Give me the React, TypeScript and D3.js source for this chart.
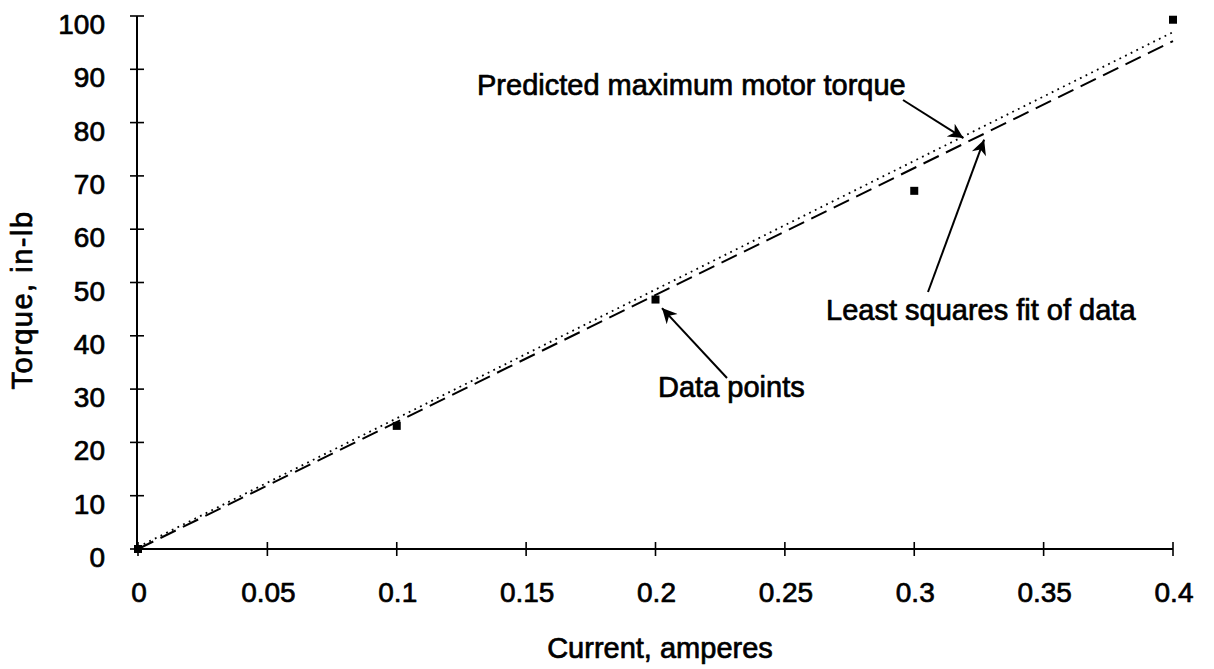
import React, { useEffect, useRef } from 'react';
import * as d3 from 'd3';

// measured points (current in amperes, torque in in-lb)
const currents = [0, 0.1, 0.2, 0.3, 0.4];
const torques = [0, 23.1, 46.8, 67.2, 99.3];

// straight lines, given by their end points
const predictedLine: [number, number][] = [[0, 0], [0.4, 96.6]];
const fitLine: [number, number][] = [[0, 0], [0.4, 95.3]];

const xTicks = [0, 0.05, 0.1, 0.15, 0.2, 0.25, 0.3, 0.35, 0.4];
const yTicks = [0, 10, 20, 30, 40, 50, 60, 70, 80, 90, 100];

const xTitle = 'Current, amperes';
const yTitle = 'Torque, in-lb';

const noteLabels = ['Predicted maximum motor torque', 'Least squares fit of data', 'Data points'];

const FONT = '"Liberation Sans", Arial, Helvetica, sans-serif';

export default function App() {
  const ref = useRef<SVGSVGElement>(null);

  useEffect(() => {
    const width = 1214,
      height = 669;

    const svg = d3.select(ref.current).attr('width', width).attr('height', height);
    svg.selectAll('*').remove();

    const x = d3.scaleLinear().domain([0, 0.4]).range([138, 1173]);
    const y = d3.scaleLinear().domain([0, 100]).range([549, 16]);

    svg
      .append('defs')
      .append('marker')
      .attr('id', 'arrow')
      .attr('viewBox', '0 0 10 10')
      .attr('refX', 10)
      .attr('refY', 5)
      .attr('markerUnits', 'userSpaceOnUse')
      .attr('markerWidth', 22)
      .attr('markerHeight', 15)
      .attr('orient', 'auto')
      .append('path')
      .attr('d', 'M0,0 L10,5 L0,10 L3,5 Z')
      .attr('fill', '#000');

    // slight outline on the text to get the heavy scanned look
    const chart = svg
      .append('g')
      .style('font-family', FONT)
      .style('stroke-linejoin', 'round');

    const heavy = (sel: any) => sel.attr('stroke', '#000').attr('stroke-width', 0.7);

    // axes, ticks cross the line
    chart
      .append('line')
      .attr('x1', x(0) - 1)
      .attr('x2', x(0) - 1)
      .attr('y1', y(100))
      .attr('y2', y(0))
      .attr('stroke', '#000')
      .attr('stroke-width', 2);

    chart
      .append('line')
      .attr('x1', x(0) - 1)
      .attr('x2', x(0.4))
      .attr('y1', y(0))
      .attr('y2', y(0))
      .attr('stroke', '#000')
      .attr('stroke-width', 2);

    chart
      .selectAll('.ytick')
      .data(yTicks)
      .enter()
      .append('line')
      .attr('class', 'ytick')
      .attr('x1', x(0) - 8)
      .attr('x2', x(0) + 6)
      .attr('y1', d => y(d))
      .attr('y2', d => y(d))
      .attr('stroke', '#000')
      .attr('stroke-width', 1.6);

    chart
      .selectAll('.ylabel')
      .data(yTicks)
      .enter()
      .append('text')
      .attr('class', 'ylabel')
      .attr('x', 105)
      .attr('y', d => y(d) + 18)
      .attr('text-anchor', 'end')
      .style('font-size', '28px')
      .call(heavy)
      .text(d => d);

    chart
      .selectAll('.xtick')
      .data(xTicks)
      .enter()
      .append('line')
      .attr('class', 'xtick')
      .attr('x1', d => x(d))
      .attr('x2', d => x(d))
      .attr('y1', y(0) - 7)
      .attr('y2', y(0) + 7)
      .attr('stroke', '#000')
      .attr('stroke-width', 1.6);

    chart
      .selectAll('.xlabel')
      .data(xTicks)
      .enter()
      .append('text')
      .attr('class', 'xlabel')
      .attr('x', d => x(d) + 1)
      .attr('y', 602)
      .attr('text-anchor', 'middle')
      .style('font-size', '28px')
      .call(heavy)
      .text(d => String(d));

    chart
      .append('text')
      .attr('x', 660)
      .attr('y', 658)
      .attr('text-anchor', 'middle')
      .style('font-size', '29px')
      .call(heavy)
      .text(xTitle);

    chart
      .append('text')
      .attr('transform', 'translate(32,300) rotate(-90)')
      .attr('text-anchor', 'middle')
      .style('font-size', '29px')
      .style('letter-spacing', '1.5px')
      .call(heavy)
      .text(yTitle);

    const line = d3
      .line<[number, number]>()
      .x(d => x(d[0]))
      .y(d => y(d[1]));

    chart
      .append('path')
      .attr('d', line(fitLine))
      .attr('fill', 'none')
      .attr('stroke', '#000')
      .attr('stroke-width', 2)
      .attr('stroke-dasharray', '17,8');

    chart
      .append('path')
      .attr('d', line(predictedLine))
      .attr('fill', 'none')
      .attr('stroke', '#000')
      .attr('stroke-width', 1.8)
      .attr('stroke-dasharray', '1.8,4.5')
      .attr('transform', 'translate(0,-2)');

    chart
      .selectAll('.pt')
      .data(currents)
      .enter()
      .append('rect')
      .attr('class', 'pt')
      .attr('x', (d: number) => x(d) - 4)
      .attr('y', (d, i) => y(torques[i]) - 4)
      .attr('width', 8)
      .attr('height', 8)
      .attr('fill', '#000');

    // annotations with arrows
    const notes = [
      { label: noteLabels[0], tx: 477, ty: 95, from: [903, 100], to: [x(0.319), y(77.1)] },
      { label: noteLabels[1], tx: 826, ty: 320, from: [928, 292], to: [x(0.327), y(76.8)] },
      { label: noteLabels[2], tx: 658, ty: 397, from: [727, 378], to: [x(0.2025), y(45.2)] }
    ];

    const note = chart.selectAll('.note').data(notes).enter().append('g').attr('class', 'note');

    note
      .append('text')
      .attr('x', d => d.tx)
      .attr('y', d => d.ty)
      .style('font-size', '29px')
      .call(heavy)
      .text(d => d.label);

    note
      .append('line')
      .attr('x1', d => d.from[0])
      .attr('y1', d => d.from[1])
      .attr('x2', d => d.to[0])
      .attr('y2', d => d.to[1])
      .attr('stroke', '#000')
      .attr('stroke-width', 2)
      .attr('marker-end', 'url(#arrow)');
  }, []);

  return <svg ref={ref} style={{ position: 'absolute', left: 0, top: 0, background: '#fff' }} />;
}
